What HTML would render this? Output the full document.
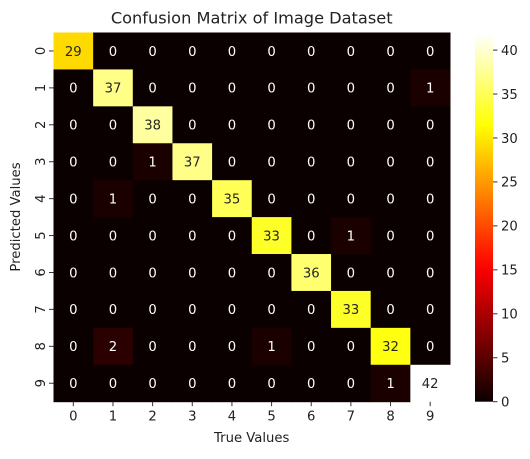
<!DOCTYPE html>
<html><head><meta charset="utf-8"><style>
body{margin:0;background:#fff;width:530px;height:455px;overflow:hidden;font-family:"DejaVu Sans","Liberation Sans",sans-serif}
</style></head><body>
<svg id="chart" width="530" height="455" xmlns="http://www.w3.org/2000/svg" font-family="DejaVu Sans, Liberation Sans, sans-serif">
<defs><linearGradient id="hotg" x1="0" y1="1" x2="0" y2="0"></linearGradient></defs>
<text x="251.7" y="23.5" font-size="16.2" text-anchor="middle" fill="#222">Confusion Matrix of Image Dataset</text>
<g id="cells"></g>
<g id="axes"></g>
<text x="251.7" y="442" font-size="13.2" text-anchor="middle" fill="#222">True Values</text>
<text x="0" y="0" font-size="13.2" text-anchor="middle" fill="#222" transform="translate(20,217) rotate(-90)">Predicted Values</text>
<rect x="475" y="32.5" width="18" height="369.2" fill="url(#hotg)"/>
<g id="cbticks"></g>
</svg>
<script>
const labels=["0","1","2","3","4","5","6","7","8","9"];
const row0=[29,0,0,0,0,0,0,0,0,0];
const row1=[0,37,0,0,0,0,0,0,0,1];
const row2=[0,0,38,0,0,0,0,0,0,0];
const row3=[0,0,1,37,0,0,0,0,0,0];
const row4=[0,1,0,0,35,0,0,0,0,0];
const row5=[0,0,0,0,0,33,0,1,0,0];
const row6=[0,0,0,0,0,0,36,0,0,0];
const row7=[0,0,0,0,0,0,0,33,0,0];
const row8=[0,2,0,0,0,1,0,0,32,0];
const row9=[0,0,0,0,0,0,0,0,1,42];
const matrix=[row0,row1,row2,row3,row4,row5,row6,row7,row8,row9];
const cbTicks=[0,5,10,15,20,25,30,35,40];
const NS="http://www.w3.org/2000/svg";
const L=53.5,R=450,T=32.5,B=401.7;
const vmin=0,vmax=Math.max(...matrix.flat());
const cw=(R-L)/labels.length,ch=(B-T)/labels.length;
const xPos=i=>L+i*cw, yPos=j=>T+j*ch;
const cbY=v=>B-(v-vmin)/(vmax-vmin)*(B-T);
function hot(t){const c=x=>Math.max(0,Math.min(1,x));
 return [c(0.0416+t/0.365*0.9584),c((t-0.365)/0.381),c((t-0.746)/0.254)];}
function rgb(a){return `rgb(${a.map(v=>Math.round(v*255)).join(',')})`;}
function mk(tag,attrs,parent){const e=document.createElementNS(NS,tag);for(const k in attrs)e.setAttribute(k,attrs[k]);parent.appendChild(e);return e;}
const cells=document.getElementById('cells'),axes=document.getElementById('axes');
matrix.forEach((row,j)=>row.forEach((v,i)=>{
 const col=hot((v-vmin)/(vmax-vmin));
 const r=mk('rect',{x:xPos(i),y:yPos(j),width:cw+0.5,height:ch+0.5,fill:rgb(col)},cells);
 
 
 const lum=0.2126*col[0]+0.7152*col[1]+0.0722*col[2];
 const t=mk('text',{x:xPos(i)+cw/2,y:yPos(j)+ch/2+4.8,'font-size':13.2,'text-anchor':'middle',fill:lum>0.408?'#262626':'#fff'},cells);
 t.textContent=v;
 
 
}));
labels.forEach((lab,i)=>{
 const cx=xPos(i)+cw/2;
 mk('line',{x1:cx,x2:cx,y1:B,y2:B+4.5,stroke:'#333'},axes);
 const t=mk('text',{x:cx,y:B+19,'font-size':13.2,'text-anchor':'middle',fill:'#222'},axes);
 t.textContent=lab;
 
 
 const cy=yPos(i)+ch/2;
 mk('line',{x1:L-4.5,x2:L,y1:cy,y2:cy,stroke:'#333'},axes);
 const u=mk('text',{x:0,y:0,'font-size':13.2,'text-anchor':'middle',fill:'#222',transform:`translate(${L-8.5},${cy}) rotate(-90)`},axes);
 u.textContent=lab;
 
 
});
const g=document.getElementById('hotg');
for(let k=0;k<=20;k++){const t=k/20;mk('stop',{offset:t,'stop-color':rgb(hot(t))},g);}
const cbt=document.getElementById('cbticks');
cbTicks.forEach(v=>{const y=cbY(v);
 mk('line',{x1:493,x2:497.5,y1:y,y2:y,stroke:'#333'},cbt);
 const t=mk('text',{x:501,y:y+4.8,'font-size':13.2,fill:'#222'},cbt);
 t.textContent=v;
 
 
});
</script>
</body></html>
